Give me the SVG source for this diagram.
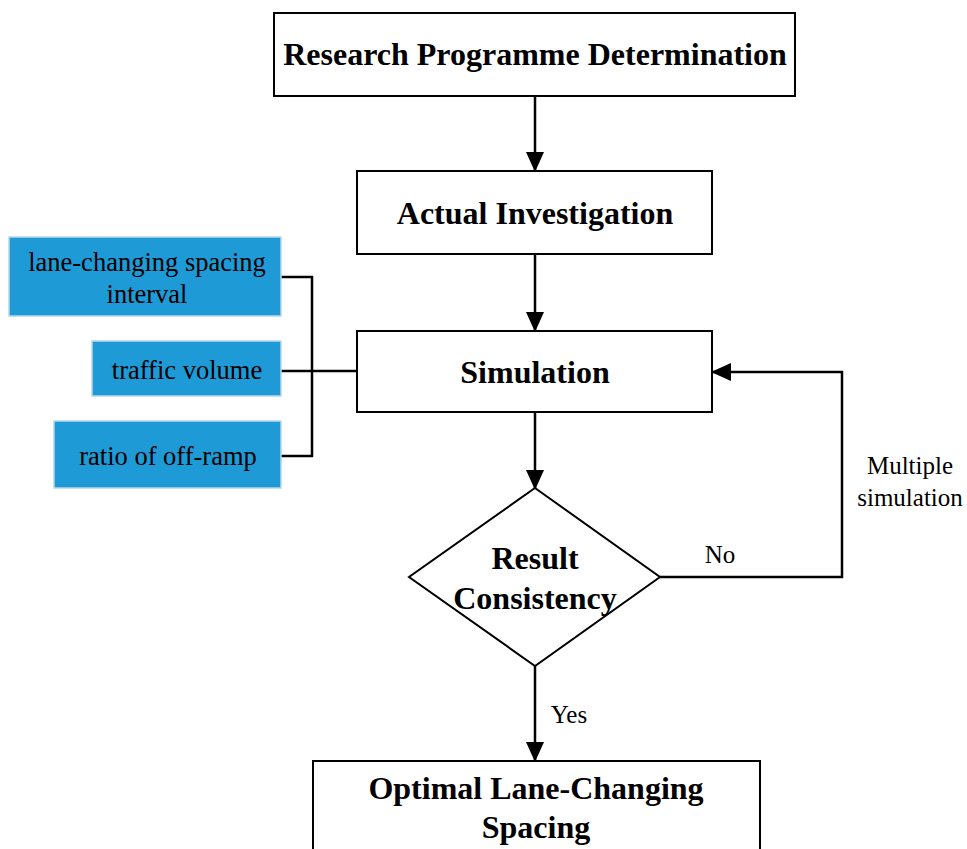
<svg xmlns="http://www.w3.org/2000/svg" width="967" height="849" viewBox="0 0 967 849">
<defs>
<marker id="ah" markerWidth="20" markerHeight="20" refX="18" refY="9" orient="auto" markerUnits="userSpaceOnUse" viewBox="0 0 20 18">
<path d="M0,0 L20,9 L0,18 z" fill="#000"/>
</marker>
<style>
.box{fill:#fff;stroke:#000;stroke-width:2}
.blue{fill:#1E9AD6;stroke:#B8D8EA;stroke-width:1.5}
.t{font-family:"Liberation Serif","Times New Roman",serif;font-weight:bold;font-size:32px;fill:#000;text-anchor:middle}
.s{font-family:"Liberation Serif","Times New Roman",serif;font-size:26.5px;fill:#000;text-anchor:middle}
.l{font-family:"Liberation Serif","Times New Roman",serif;font-size:25px;fill:#000;text-anchor:middle}
.c{fill:none;stroke:#000;stroke-width:2.5}
</style>
</defs>
<rect width="967" height="849" fill="#fff"/>
<g id="connectors">
<line class="c" x1="535" y1="96" x2="535" y2="170" marker-end="url(#ah)"/>
<line class="c" x1="535" y1="254" x2="535" y2="330" marker-end="url(#ah)"/>
<line class="c" x1="535" y1="412" x2="535" y2="488" marker-end="url(#ah)"/>
<line class="c" x1="535" y1="666" x2="535" y2="760" marker-end="url(#ah)"/>
<polyline class="c" points="660,577 842,577 842,372 713,372" marker-end="url(#ah)"/>
<polyline class="c" points="281,277 312,277 312,456 281,456"/>
<line class="c" x1="281" y1="371" x2="357" y2="371"/>
<text class="l" x="720" y="563">No</text>
<text class="l" x="569" y="723">Yes</text>
<text class="l" x="910" y="474">Multiple</text>
<text class="l" x="910" y="506">simulation</text>
</g>
<g id="n1"><rect class="box" x="274" y="13" width="521" height="83"/><text class="t" x="535" y="65">Research Programme Determination</text></g>
<g id="n2"><rect class="box" x="357" y="171" width="355" height="83"/><text class="t" x="535" y="224">Actual Investigation</text></g>
<g id="n3"><rect class="box" x="357" y="331" width="355" height="81"/><text class="t" x="535" y="383">Simulation</text></g>
<g id="n4"><polygon class="box" points="535,488 660,577 535,666 409,577"/><text class="t" x="535" y="569">Result</text><text class="t" x="535" y="609">Consistency</text></g>
<g id="n5"><rect class="box" x="313" y="761" width="447" height="100"/><text class="t" x="536" y="799">Optimal Lane-Changing</text><text class="t" x="536" y="838">Spacing</text></g>
<g id="p1"><rect class="blue" x="9" y="237" width="272" height="79"/><text class="s" x="147" y="271">lane-changing spacing</text><text class="s" x="147" y="303">interval</text></g>
<g id="p2"><rect class="blue" x="92" y="341" width="189" height="55"/><text class="s" x="187" y="379">traffic volume</text></g>
<g id="p3"><rect class="blue" x="54" y="421" width="227" height="67"/><text class="s" x="168" y="465">ratio of off-ramp</text></g>
</svg>
